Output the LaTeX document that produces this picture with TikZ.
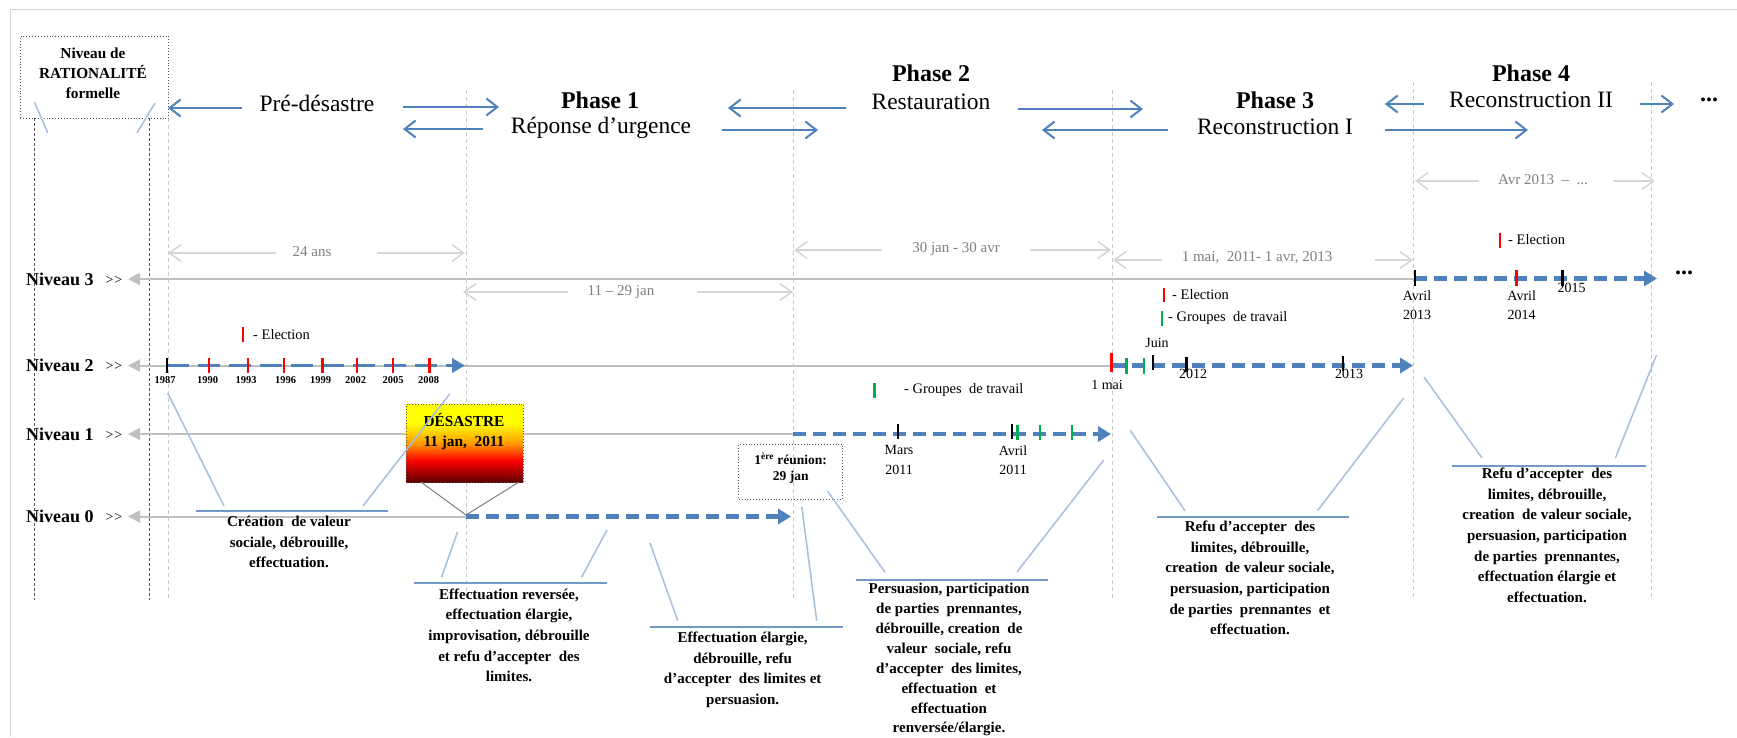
\documentclass[tikz,border=0pt]{standalone}
\usepackage{fontspec}
\setmainfont{Liberation Serif}
\usetikzlibrary{arrows.meta}
\definecolor{pblue}{HTML}{4F81BD}
\definecolor{barblue}{HTML}{7399C9}
\definecolor{lblue}{HTML}{A7BFDE}
\definecolor{lgray}{HTML}{C0C0C0}
\definecolor{vlgray}{HTML}{D6D6D6}
\definecolor{tgray}{HTML}{7F7F7F}
\definecolor{dkgray}{HTML}{555555}
\definecolor{phgray}{HTML}{C8C8C8}
\definecolor{eltred}{HTML}{FF0000}
\definecolor{grpgreen}{HTML}{00B050}
\definecolor{dred}{HTML}{5A0000}
\definecolor{dorange}{HTML}{FF9900}
\pgfdeclareverticalshading{desastre}{100bp}{color(0bp)=(dred); color(25bp)=(dred); color(39bp)=(red); color(50bp)=(dorange); color(63bp)=(yellow); color(100bp)=(yellow)}
\newcommand{\gtgtsym}{>\kern0.8pt>}
\begin{document}
\begin{tikzpicture}[x=1pt,y=-1pt,
  phtxt/.style={font=\fontsize{23.5}{26}\selectfont, inner sep=0},
  phbold/.style={font=\bfseries\fontsize{24}{26}\selectfont, inner sep=0},
  nivtxt/.style={font=\bfseries\fontsize{18}{20}\selectfont, anchor=west, inner sep=0},
  gtgt/.style={font=\fontsize{14}{16}\selectfont, inner sep=0},
  durtxt/.style={text=tgray, font=\fontsize{15}{17}\selectfont, inner sep=0},
  legtxt/.style={font=\fontsize{14.5}{17}\selectfont, anchor=west, inner sep=0},
  datetxt/.style={font=\fontsize{14}{19.5}\selectfont, align=center, inner sep=0},
  yeartxt/.style={font=\bfseries\fontsize{10.5}{12}\selectfont, inner sep=0},
  boxtxt/.style={font=\bfseries\fontsize{15.3}{20}\selectfont, align=center, inner sep=0},
  callout/.style={font=\bfseries\fontsize{15}{20.6}\selectfont, align=center, anchor=north, inner sep=0},
  bar/.style={draw=barblue, line width=2pt},
  diag/.style={draw=lblue, line width=1.5pt},
  lvl/.style={draw=lgray, line width=2pt, -{Triangle[length=12pt,width=12pt]}},
  bdash/.style={draw=pblue, line width=4.5pt, dash pattern=on 13pt off 7pt, -{Triangle[length=13pt,width=15pt]}},
  bdashlong/.style={draw=pblue, line width=3.5pt, dash pattern=on 22pt off 9pt, -{Triangle[length=13pt,width=14pt]}},
  rtk/.style={draw=eltred, line width=2.5pt},
  gtk/.style={draw=grpgreen, line width=2.5pt},
  ktk/.style={draw=black, line width=2.5pt},
  barr/.style={draw=pblue, line width=2pt, -{Straight Barb[length=11pt,width=17pt]}},
  garr/.style={draw=vlgray, line width=1.5pt, -{Straight Barb[length=12pt,width=17pt]}},
  phline/.style={draw=phgray, line width=0.8pt, dash pattern=on 4pt off 3pt},
  dkline/.style={draw=dkgray, line width=0.9pt, dash pattern=on 3pt off 2pt},
  dotsbig/.style={font=\bfseries\fontsize{24}{26}\selectfont, inner sep=0}
]
\useasboundingbox (0,0) rectangle (1737,737);
\fill[white] (0,0) rectangle (1737,737);
% outer frame
\draw[vlgray, line width=1.5pt] (1737,9.3) -- (10.7,9.3) -- (10.7,737);

% phase boundary lines
\draw[phline] (168,118) -- (168,600);
\draw[phline] (466,90) -- (466,600);
\draw[phline] (793,90) -- (793,600);
\draw[phline] (1112,90) -- (1112,600);
\draw[phline] (1413,82) -- (1413,600);
\draw[phline] (1651,82) -- (1651,600);

% rationality box
\node[draw=dkgray, dotted, line width=0.9pt, minimum width=148pt, minimum height=82pt, anchor=north west, inner sep=0] (ratbox) at (20,36) {};
\node[boxtxt] (rattxt) at (93,73) {Niveau de\\RATIONALITÉ\\formelle};
\draw[dkline] (34.4,118) -- (34.4,600);
\draw[dkline] (149,118) -- (149,600);
\draw[diag] (34.4,102) -- (47.8,133);
\draw[diag] (155,103) -- (137,133);

% phase titles
\node[phtxt] (pre) at (317,103) {Pré-désastre};
\node[phbold] (ph1) at (600,100) {Phase 1};
\node[phtxt] (ph1n) at (601,128) {Réponse d’urgence};
\node[phbold] (ph2) at (931,73) {Phase 2};
\node[phtxt] (ph2n) at (931,102) {Restauration};
\node[phbold] (ph3) at (1275,100) {Phase 3};
\node[phtxt] (ph3n) at (1275,127) {Reconstruction I};
\node[phbold] (ph4) at (1531,73) {Phase 4};
\node[phtxt] (ph4n) at (1531,100) {Reconstruction II};
\node[dotsbig] (dots1) at (1709,100) {...};

% phase arrows
\draw[barr] (242,108) -- (168,108);
\draw[barr] (403,107) -- (499,107);
\draw[barr] (483,129) -- (403,129);
\draw[barr] (846,108) -- (728,108);
\draw[barr] (722,130) -- (818,130);
\draw[barr] (1018,109) -- (1143,109);
\draw[barr] (1168,130) -- (1042,130);
\draw[barr] (1424,104) -- (1385,104);
\draw[barr] (1385,130) -- (1528,130);
\draw[barr] (1640,104) -- (1674,104);

% durations
\node[durtxt] (d1) at (312,252) {24 ans};
\draw[garr] (276,253) -- (168,253);
\draw[garr] (377,253) -- (465,253);
\node[durtxt] (d2) at (621,292) {11 – 29 jan};
\draw[garr] (568,292) -- (463,292);
\draw[garr] (697,292) -- (793,292);
\node[durtxt] (d3) at (956,249) {30 jan - 30 avr};
\draw[garr] (882,250) -- (794,250);
\draw[garr] (1030,250) -- (1111,250);
\node[durtxt] (d4) at (1257,258) {1 mai,~ 2011- 1 avr, 2013};
\draw[garr] (1162,260) -- (1113,260);
\draw[garr] (1375,260) -- (1413,260);
\node[durtxt] (d5) at (1543,180) {Avr 2013 ~–~ ...};
\draw[garr] (1479,181) -- (1415,181);
\draw[garr] (1613,181) -- (1655,181);

% level labels and lines
\node[nivtxt] (n3) at (26,279) {Niveau 3};
\node[nivtxt] (n2) at (26,365) {Niveau 2};
\node[nivtxt] (n1) at (26,434) {Niveau 1};
\node[nivtxt] (n0) at (26,516) {Niveau 0};
\node[gtgt] (g3) at (114,280) {\gtgtsym};
\node[gtgt] (g2) at (114,366.5) {\gtgtsym};
\node[gtgt] (g1) at (114,435) {\gtgtsym};
\node[gtgt] (g0) at (114,517.5) {\gtgtsym};
\draw[lvl] (1414,279) -- (128,279);
\draw[lvl] (1112,365.5) -- (128,365.5);
\draw[lvl] (793,434) -- (128,434);
\draw[lvl] (466,516.5) -- (128,516.5);

% Niveau 2 early timeline
\draw[bdashlong] (167,365.5) -- (465,365.5);
\draw[ktk] (167,358) -- (167,373);
\foreach \x in {209,248,284,322.5,357,393,429.4} \draw[rtk] (\x,358) -- (\x,373);
\node[yeartxt] (y87) at (165,380) {1987};
\node[yeartxt] (y90) at (207.5,380) {1990};
\node[yeartxt] (y93) at (246,380) {1993};
\node[yeartxt] (y96) at (285.5,380) {1996};
\node[yeartxt] (y99) at (320.7,380) {1999};
\node[yeartxt] (y02) at (355.5,380) {2002};
\node[yeartxt] (y05) at (393,380) {2005};
\node[yeartxt] (y08) at (428.6,380) {2008};
\draw[rtk] (243,327) -- (243,342);
\node[legtxt] (leg1) at (253,335) {- Election};

% desastre
\node[draw=dkgray, dotted, line width=0.8pt, shading=desastre, minimum width=117pt, minimum height=78pt, anchor=north west, inner sep=0] (des) at (405.7,404) {};
\node[boxtxt] (destxt) at (464,432) {DÉSASTRE\\11 jan,~~2011};
\draw[draw=tgray, line width=1pt] (421,482) -- (466,515) -- (519,482);

% Niveau 0 timeline
\draw[bdash] (466,516.5) -- (791,516.5);

% Niveau 1 timeline
\draw[bdash] (793,434) -- (1111,434);
\draw[ktk] (898,424) -- (898,439);
\draw[ktk] (1012,424) -- (1012,439);
\foreach \x in {1017.7,1040,1072} \draw[gtk] (\x,425) -- (\x,440);
\node[datetxt] (mars) at (899,460) {Mars\\2011};
\node[datetxt] (avr11) at (1013,460) {Avril\\2011};
\draw[gtk] (874.5,383) -- (874.5,398);
\node[legtxt] (leg2) at (904,390) {- Groupes~ de travail};

% 1ere reunion
\node[draw=dkgray, dotted, line width=0.9pt, minimum width=104pt, minimum height=55pt, inner sep=0] (reunion) at (790.7,471.5) {};
\node[font=\bfseries\fontsize{13.5}{16}\selectfont, align=center, inner sep=0] (reuntxt) at (790.7,468.5) {1\textsuperscript{ère} réunion:\\29 jan};

% Niveau 2 late timeline
\draw[bdash] (1112,365.5) -- (1413,365.5);
\draw[rtk] (1111.7,353) -- (1111.7,372);
\draw[gtk] (1126.7,358) -- (1126.7,374);
\draw[gtk] (1144,358) -- (1144,374);
\draw[ktk] (1153,355) -- (1153,370);
\draw[ktk] (1186.7,357) -- (1186.7,372);
\draw[ktk] (1343,356) -- (1343,371);
\node[datetxt] (mai) at (1107,385) {1 mai};
\node[datetxt] (juin) at (1157,343) {Juin};
\node[datetxt] (y12) at (1193,374) {2012};
\node[datetxt] (y13) at (1349,374) {2013};
\draw[rtk] (1164,288) -- (1164,302);
\node[legtxt] (leg3) at (1172,295) {- Election};
\draw[gtk] (1162,311) -- (1162,326);
\node[legtxt] (leg4) at (1168,318) {- Groupes~ de travail};

% Niveau 3 timeline
\draw[bdash] (1414,278.5) -- (1657,278.5);
\draw[ktk] (1415,270) -- (1415,286);
\draw[rtk] (1516.7,270) -- (1516.7,286);
\draw[ktk] (1562.7,270) -- (1562.7,286);
\node[datetxt] (av13) at (1417,305) {Avril\\2013};
\node[datetxt] (av14) at (1521.7,305) {Avril\\2014};
\node[datetxt] (y15) at (1571.7,288) {2015};
\draw[rtk] (1500,233) -- (1500,248);
\node[legtxt] (leg5) at (1508,240) {- Election};
\node[dotsbig] (dots2) at (1684,273) {...};

% callouts
\draw[bar] (195.7,510.7) -- (388,510.7);
\draw[diag] (167.7,393) -- (224,506);
\draw[diag] (363,506) -- (449.7,394);
\node[callout] (c1) at (289,516) {Création~ de valeur\\sociale, débrouille,\\effectuation.};

\draw[bar] (414,582.7) -- (607,582.7);
\draw[diag] (457.5,532) -- (441.7,577);
\draw[diag] (607,530) -- (581.7,577);
\node[callout] (c2) at (509,588.5) {Effectuation reversée,\\effectuation élargie,\\improvisation, débrouille\\et refu d’accepter~ des\\limites.};

\draw[bar] (650,626.7) -- (842.7,626.7);
\draw[diag] (650,543) -- (677.7,620.7);
\draw[diag] (801.8,507) -- (816.7,620.7);
\node[callout] (c3) at (742.7,632) {Effectuation élargie,\\débrouille, refu\\d’accepter~ des limites et\\persuasion.};

\draw[bar] (856,580) -- (1048,580);
\draw[diag] (827.5,491) -- (885,572.3);
\draw[diag] (1103.8,460) -- (1017,572);
\node[callout, font=\bfseries\fontsize{15}{19.9}\selectfont] (c4) at (949,583) {Persuasion, participation\\de parties~ prennantes,\\débrouille, creation~ de\\valeur~ sociale, refu\\d’accepter~ des limites,\\effectuation~ et\\effectuation\\renversée/élargie.};

\draw[bar] (1157,516.7) -- (1349,516.7);
\draw[diag] (1130,430) -- (1185,510.7);
\draw[diag] (1403.7,398) -- (1317.5,510.7);
\node[callout] (c5) at (1250,521) {Refu d’accepter~ des\\limites, débrouille,\\creation~ de valeur sociale,\\persuasion, participation\\de parties~ prennantes~ et\\effectuation.};

\draw[bar] (1452.4,465.7) -- (1645.5,465.7);
\draw[diag] (1424,377) -- (1482,458);
\draw[diag] (1656.5,355) -- (1615.4,458);
\node[callout] (c6) at (1547,468) {Refu d’accepter~ des\\limites, débrouille,\\creation~ de valeur sociale,\\persuasion, participation\\de parties~ prennantes,\\effectuation élargie et\\effectuation.};
\end{tikzpicture}
\end{document}
